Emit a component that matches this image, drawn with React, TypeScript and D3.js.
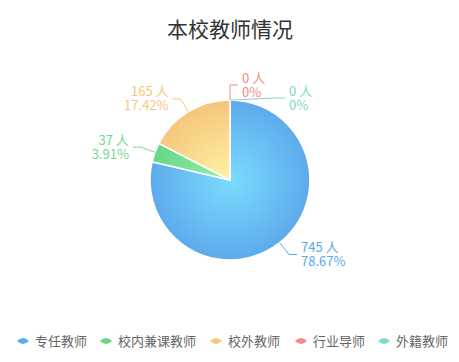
import React from "react";
import * as d3 from "d3";

const categories = ["专任教师", "校内兼课教师", "校外教师", "行业导师", "外籍教师"];
const values = [745, 37, 165, 0, 0];
const outerColors = ["#5eaaec", "#69d68a", "#f5c67c", "#f28b82", "#7dd8d0"];
const innerColors = ["#7bdcff", "#8ff0a6", "#fff3a4", "#ffb0a8", "#a6f0ea"];
const labelColors = ["#5aa8ec", "#72d88c", "#f5c77e", "#f28b82", "#7fd8d0"];
const title = "本校教师情况";

const W = 459;
const H = 362;
const cx = 230;
const cy = 180;
const R = 80;
const FONT = "'Noto Sans CJK SC', 'Noto Sans', sans-serif";

export default function App() {
  const total = d3.sum(values);
  const pie = d3
    .pie<number>()
    .sort(null)
    .startAngle(0)
    .endAngle(2 * Math.PI)
    .value((d) => d);
  const arcs = pie(values);
  const arcGen = d3.arc<d3.PieArcDatum<number>>().innerRadius(0).outerRadius(R);

  const seenAngles: number[] = [];
  const labels = arcs.map((a, i) => {
    const mid = (a.startAngle + a.endAngle) / 2;
    const sx = Math.sin(mid);
    const sy = -Math.cos(mid);
    const p0: [number, number] = [cx + R * sx, cy + R * sy];
    let p1: [number, number] = [cx + (R + 15) * sx, cy + (R + 15) * sy];
    const right = sx >= -1e-6;
    let p2: [number, number] = [p1[0] + (right ? 8 : -8), p1[1]];
    const dup = seenAngles.some((m) => Math.abs(m - mid) < 0.01);
    if (dup) {
      // overlap avoidance: move the label down beside the edge
      p1 = [cx + 47, p0[1] - 2];
      p2 = [p1[0] + 8, p1[1]];
    }
    seenAngles.push(mid);
    const pct = total ? (values[i] / total) * 100 : 0;
    const pctStr = pct === 0 ? "0%" : pct.toFixed(2) + "%";
    return {
      points: [p0, p1, p2],
      tx: p2[0] + (right ? 4 : -4),
      ty: p2[1],
      anchor: right ? "start" : "end",
      line1: `${values[i]} 人`,
      line2: pctStr,
      color: labelColors[i],
    };
  });

  const legendX = [17, 100, 210, 295, 378];
  const legendY = 341;

  return (
    <div style={{ position: "fixed", left: 0, top: 0 }}>
      <svg width={W} height={H} style={{ display: "block", background: "#fff" }}>
        <defs>
          {categories.map((c, i) => (
            <radialGradient
              key={c}
              id={`g${i}`}
              gradientUnits="userSpaceOnUse"
              cx={0}
              cy={0}
              r={R}
            >
              <stop offset="0" stopColor={innerColors[i]} />
              <stop offset="1" stopColor={outerColors[i]} />
            </radialGradient>
          ))}
        </defs>
        <text
          x={230}
          y={37}
          textAnchor="middle"
          fontFamily={FONT}
          fontSize={21}
          fill="#333"
        >
          {title}
        </text>
        <g transform={`translate(${cx},${cy})`}>
          {arcs.map((a, i) =>
            a.endAngle - a.startAngle > 0 ? (
              <path
                key={i}
                d={arcGen(a) || ""}
                fill={`url(#g${i})`}
                stroke="#fff"
                strokeWidth={1.5}
                strokeLinejoin="round"
              />
            ) : null
          )}
        </g>
        {labels.map((l, i) => (
          <g key={i}>
            <polyline
              points={l.points.map((p) => p.join(",")).join(" ")}
              fill="none"
              stroke={l.color}
              strokeWidth={1}
            />
            <text
              x={l.tx}
              y={l.ty - 2.5}
              textAnchor={l.anchor}
              fontFamily={FONT}
              fontSize={13}
              fill={l.color}
            >
              {l.line1}
            </text>
            <text
              x={l.tx}
              y={l.ty + 11.5}
              textAnchor={l.anchor}
              fontFamily={FONT}
              fontSize={13}
              fill={l.color}
            >
              {l.line2}
            </text>
          </g>
        ))}
        {categories.map((c, i) => {
          const x = legendX[i];
          return (
            <g key={c}>
              <path
                d={`M${x},${legendY} Q${x + 6},${legendY - 6} ${x + 12},${legendY} Q${x + 6},${legendY + 6} ${x},${legendY} Z`}
                fill={outerColors[i]}
              />
              <text
                x={x + 18}
                y={legendY + 5}
                fontFamily={FONT}
                fontSize={13}
                fill="#666"
              >
                {c}
              </text>
            </g>
          );
        })}
      </svg>
    </div>
  );
}
